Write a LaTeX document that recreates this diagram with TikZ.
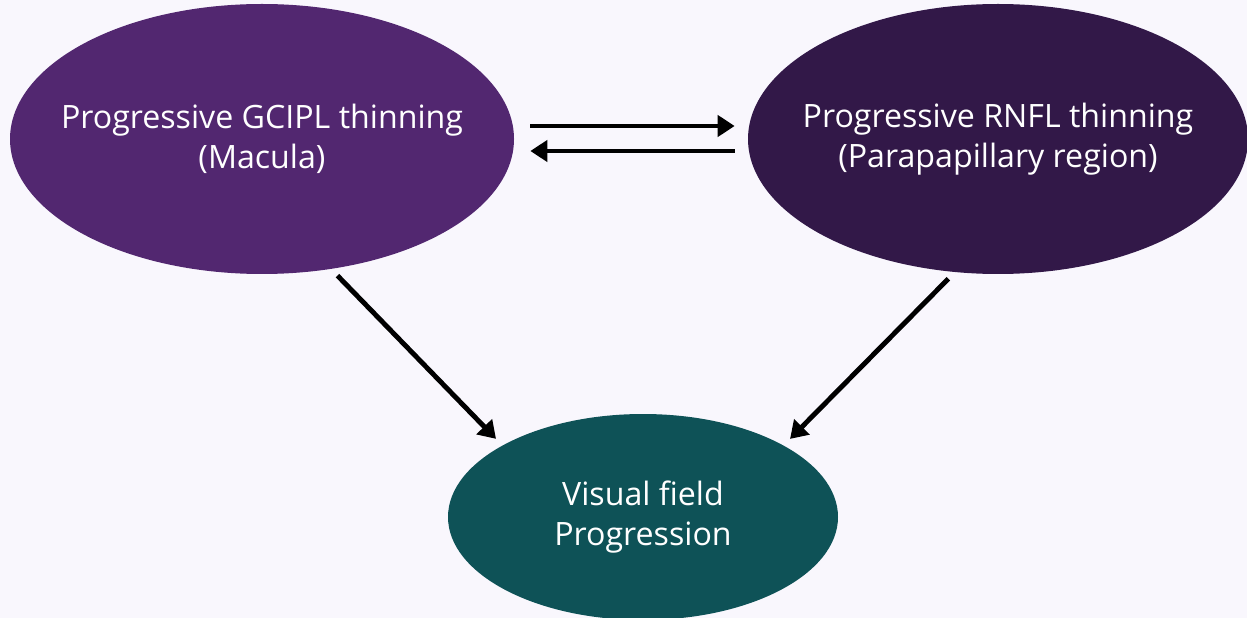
\documentclass[tikz,border=0pt]{standalone}
\usepackage{fontspec}
\setmainfont{Open Sans}
\usepackage{xcolor}
\usetikzlibrary{arrows.meta,calc,positioning,shapes.geometric}
\definecolor{bgcol}{RGB}{249,247,253}
\definecolor{gciplcol}{RGB}{82,39,112}
\definecolor{rnflcol}{RGB}{50,24,72}
\definecolor{vfcol}{RGB}{14,82,87}
\begin{document}
\begin{tikzpicture}[>={Triangle[length=0.34cm,width=0.42cm]},font=\fontsize{18.3}{22.8}\selectfont]
\tikzstyle{blob}=[ellipse,inner ysep=0pt,inner xsep=-1cm,text=white,align=center]
\tikzstyle{link}=[->,line width=2.8pt]
\fill[bgcol] (0,0) rectangle (24.94,-12.36);
\useasboundingbox (0,0) rectangle (24.94,-12.36);
\node[blob,fill=gciplcol,minimum width=10.08cm,minimum height=5.4cm] (gcipl) at (5.24,-2.78) {Progressive GCIPL thinning\\(Macula)};
\node[blob,fill=rnflcol,minimum width=10.0cm,minimum height=5.4cm] (rnfl) at (19.96,-2.78) {Progressive RNFL thinning\\(Parapapillary region)};
\node[blob,fill=vfcol,minimum width=7.8cm,minimum height=4.12cm] (vfp) at (12.86,-10.34) {Visual field\\Progression};
\draw[link,shorten <=0.32cm,shorten >=0.26cm] ([yshift=0.26cm]gcipl.east) -- ([yshift=0.26cm]rnfl.west);
\draw[link,shorten <=0.26cm,shorten >=0.32cm] ([yshift=-0.24cm]rnfl.west) -- ([yshift=-0.24cm]gcipl.east);
\draw[link,shorten <=0.18cm,shorten >=0.18cm] (gcipl.-62) -- (vfp.153);
\draw[link,shorten <=0.18cm,shorten >=0.18cm] (rnfl.-108) -- (vfp.27);
\end{tikzpicture}
\end{document}
